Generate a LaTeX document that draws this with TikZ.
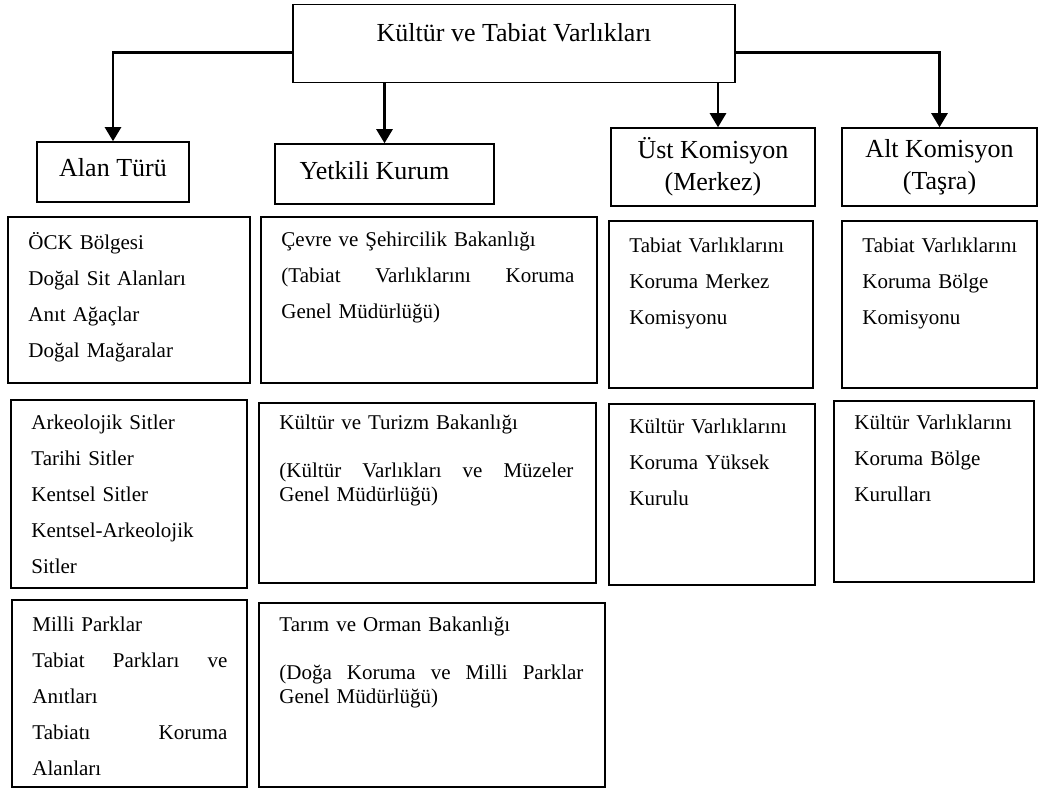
\documentclass[tikz,border=0pt]{standalone}
\usepackage{fontspec}
\setmainfont{Liberation Serif}
\usetikzlibrary{arrows.meta}

\tikzset{
	kutu/.style={draw, line width=1.5pt, inner sep=0pt},
	baslik/.style={kutu, font=\fontsize{26}{32}\selectfont, align=center},
	yazi/.style={font=\fontsize{21}{36}\selectfont, align=left, inner sep=0pt, anchor=base west},
	tekyazi/.style={yazi, font=\fontsize{21}{24}\selectfont},
	ok/.style={line width=2.5pt, -{Triangle[length=14pt,width=16pt]}}
}

\begin{document}
\begin{tikzpicture}[x=1pt, y=-1pt]
		\useasboundingbox (0,0) rectangle (1038,789);
		
		% draw top box
		\node[kutu, anchor=north, minimum width=442pt, font=\fontsize{26}{32}\selectfont,
		text height=37pt, text depth=41pt] (kok) at (514,4) {Kültür ve Tabiat Varlıkları};
		
		% draw headers
		\node[baslik, minimum width=152pt, text height=34pt, text depth=26pt] (alan) at (113,172) {Alan Türü};
		\node[baslik, minimum width=219pt, text height=35pt, text depth=25pt] (kurum) at (384.5,174) {Yetkili Kurum\hspace{20pt}};
		\node[baslik, minimum width=204pt, minimum height=78pt] (ust) at (713,167) {Üst Komisyon\\(Merkez)};
		\node[baslik, minimum width=195pt, minimum height=78pt] (alt) at (939.5,167) {Alt Komisyon\\(Taşra)};
		
		% draw arrows
		\draw[ok] ([yshift=-9pt]kok.west) -| (alan.north);
		\draw[ok] (kok.south -| kurum.north) -- (kurum.north);
		\draw[ok] ([xshift=5pt]ust.north |- kok.south) -- ([xshift=5pt]ust.north);
		\draw[ok] ([yshift=-9pt]kok.east) -| (alt.north);
		
		% draw first row
		\node[kutu, minimum width=242pt, minimum height=166pt] (alan1) at (129,300) {};
		\node[kutu, minimum width=336pt, minimum height=166pt] (kurum1) at (429,300) {};
		\node[kutu, minimum width=204pt, minimum height=167pt] (ust1) at (711,304.5) {};
		\node[kutu, minimum width=195pt, minimum height=167pt] (alt1) at (939.5,304.5) {};
		
		\node[yazi, text width=210pt] (alan1y) at ([shift={(21,33)}]alan1.north west)
		{ÖCK Bölgesi\\Doğal Sit Alanları\\Anıt Ağaçlar\\Doğal Mağaralar};
		\node[yazi, text width=293pt] (kurum1y) at ([shift={(21,30)}]kurum1.north west)
		{Çevre ve Şehircilik Bakanlığı\\(Tabiat\hfill Varlıklarını\hfill Koruma\\Genel Müdürlüğü)};
		\node[yazi, text width=180pt] (ust1y) at ([shift={(21,32)}]ust1.north west)
		{Tabiat Varlıklarını\\Koruma Merkez\\Komisyonu};
		\node[yazi, text width=172pt] (alt1y) at ([shift={(21,32)}]alt1.north west)
		{Tabiat Varlıklarını\\Koruma Bölge\\Komisyonu};
		
		% draw second row
		\node[kutu, minimum width=236pt, minimum height=188pt] (alan2) at (129,494) {};
		\node[kutu, minimum width=337pt, minimum height=180pt] (kurum2) at (427.5,493) {};
		\node[kutu, minimum width=206pt, minimum height=181pt] (ust2) at (712,494.5) {};
		\node[kutu, minimum width=200pt, minimum height=181pt] (alt2) at (934,491.5) {};
		
		\node[yazi, text width=205pt] (alan2y) at ([shift={(21,30)}]alan2.north west)
		{Arkeolojik Sitler\\Tarihi Sitler\\Kentsel Sitler\\Kentsel-Arkeolojik\\Sitler};
		\node[tekyazi, text width=294pt] (kurum2y) at ([shift={(21,27)}]kurum2.north west)
		{Kültür ve Turizm Bakanlığı\\[24pt](Kültür\hfill Varlıkları\hfill ve\hfill Müzeler\\Genel Müdürlüğü)};
		\node[yazi, text width=180pt] (ust2y) at ([shift={(21,30)}]ust2.north west)
		{Kültür Varlıklarını\\Koruma Yüksek\\Kurulu};
		\node[yazi, text width=175pt] (alt2y) at ([shift={(21,29)}]alt2.north west)
		{Kültür Varlıklarını\\Koruma Bölge\\Kurulları};
		
		% draw third row
		\node[kutu, minimum width=235pt, minimum height=187pt] (alan3) at (129.5,693.5) {};
		\node[kutu, minimum width=346pt, minimum height=184pt] (kurum3) at (432,695) {};
		
		\node[yazi, text width=195pt] (alan3y) at ([shift={(21,32)}]alan3.north west)
		{Milli Parklar\\Tabiat\hfill Parkları\hfill ve\\Anıtları\\Tabiatı\hfill Koruma\\Alanları};
		\node[tekyazi, text width=304pt] (kurum3y) at ([shift={(21,29)}]kurum3.north west)
		{Tarım ve Orman Bakanlığı\\[24pt](Doğa\hfill Koruma\hfill ve\hfill Milli\hfill Parklar\\Genel Müdürlüğü)};
		
\end{tikzpicture}
\end{document}
